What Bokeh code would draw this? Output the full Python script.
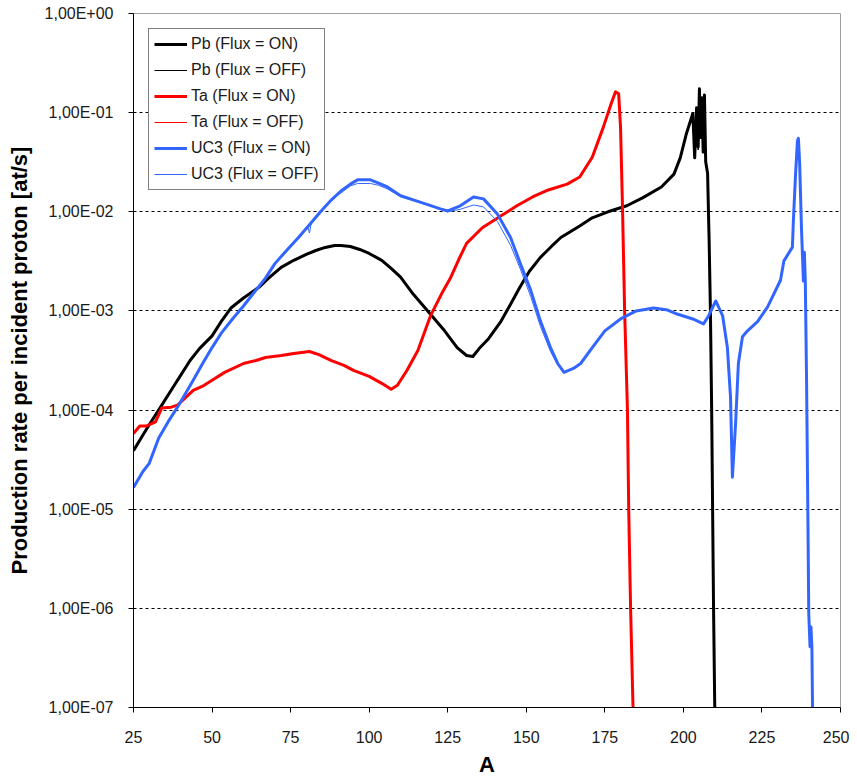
from bokeh.plotting import figure
from bokeh.models import Range1d, FixedTicker, CustomJSTickFormatter
from bokeh.embed import file_html
from bokeh.resources import INLINE

# ---------------- data ----------------
pb_A = [25, 28, 30, 33, 35, 38, 40, 43, 46, 50, 53, 56, 60, 65, 68, 72, 76, 80, 83, 86,
        89, 91, 94, 97, 100, 104, 107, 110, 114, 117, 120, 124, 128, 131, 133, 135, 138, 142, 145, 148,
        151, 154.5, 158, 161, 164, 167, 171, 176, 182, 187, 193, 197, 199, 201, 203, 203.6, 204.2, 204.7, 205.1, 205.5,
        205.9, 206.3, 206.7, 207.1, 207.7, 208.2, 208.6, 209.0, 209.3, 209.6, 210.1]
pb_on = [3.9e-5, 5.6e-5, 7.1e-5, 1.0e-4, 1.26e-4, 1.78e-4, 2.24e-4, 3.16e-4, 4.17e-4, 5.6e-4,
         7.9e-4, 1.07e-3, 1.35e-3, 1.74e-3, 2.14e-3, 2.75e-3, 3.24e-3, 3.72e-3, 4.07e-3, 4.37e-3,
         4.57e-3, 4.57e-3, 4.47e-3, 4.17e-3, 3.8e-3, 3.24e-3, 2.69e-3, 2.19e-3, 1.48e-3, 1.15e-3,
         8.9e-4, 6.3e-4, 4.27e-4, 3.55e-4, 3.47e-4, 4.17e-4, 5.25e-4, 7.9e-4, 1.17e-3, 1.74e-3,
         2.51e-3, 3.47e-3, 4.47e-3, 5.5e-3, 6.3e-3, 7.2e-3, 8.7e-3, 1.0e-2, 1.15e-2, 1.38e-2,
         1.78e-2, 2.4e-2, 3.5e-2, 6.2e-2, 9.8e-2, 3.5e-2, 1.12e-1, 4.5e-2, 1.74e-1, 5.6e-2,
         1.41e-1, 4.0e-2, 1.51e-1, 3.2e-2, 2.45e-2, 5.0e-3, 1.0e-3, 1.0e-4, 1.0e-5, 1.0e-6,
         5.0e-8]
pb_off = [3.9e-5, 5.6e-5, 7.1e-5, 1.0e-4, 1.26e-4, 1.78e-4, 2.24e-4, 3.16e-4, 4.17e-4, 5.6e-4,
          7.9e-4, 1.07e-3, 1.35e-3, 1.74e-3, 2.14e-3, 2.75e-3, 3.24e-3, 3.72e-3, 4.07e-3, 4.37e-3,
          4.57e-3, 4.57e-3, 4.47e-3, 4.17e-3, 3.8e-3, 3.24e-3, 2.69e-3, 2.19e-3, 1.48e-3, 1.15e-3,
          8.9e-4, 6.3e-4, 4.27e-4, 3.55e-4, 3.47e-4, 4.17e-4, 5.25e-4, 7.9e-4, 1.17e-3, 1.74e-3,
          2.51e-3, 3.47e-3, 4.47e-3, 5.5e-3, 6.3e-3, 7.2e-3, 8.7e-3, 1.0e-2, 1.15e-2, 1.38e-2,
          1.78e-2, 2.4e-2, 3.5e-2, 6.2e-2, 9.8e-2, 3.8e-2, 1.05e-1, 4.2e-2, 1.6e-1, 6.0e-2,
          1.3e-1, 4.4e-2, 1.4e-1, 3.4e-2, 2.4e-2, 3.0e-3, 6.0e-4, 6.0e-5, 8.0e-6, 8.0e-7,
          5.0e-8]

ta_A = [25, 27, 29, 32, 34, 37, 39, 44, 47, 50, 54, 60, 64, 67, 72, 76, 81, 84, 88, 92,
        95, 100, 104, 107, 109, 112, 115.5, 119.5, 123, 126, 128.5, 131, 136, 142, 147, 152, 157, 163, 167, 171,
        174.5, 177, 178.4, 179.4, 180, 180.6, 181.3, 182.2, 182.6, 183.2, 184.2]
ta_on = [5.8e-5, 6.9e-5, 6.9e-5, 7.6e-5, 1.05e-4, 1.07e-4, 1.12e-4, 1.58e-4, 1.74e-4, 2.0e-4,
         2.4e-4, 2.95e-4, 3.16e-4, 3.39e-4, 3.55e-4, 3.72e-4, 3.9e-4, 3.63e-4, 3.16e-4, 2.82e-4,
         2.51e-4, 2.19e-4, 1.86e-4, 1.62e-4, 1.78e-4, 2.51e-4, 3.98e-4, 8.9e-4, 1.48e-3, 2.19e-3,
         3.3e-3, 4.8e-3, 6.9e-3, 9.1e-3, 1.15e-2, 1.41e-2, 1.66e-2, 1.9e-2, 2.24e-2, 3.55e-2,
         7.1e-2, 1.23e-1, 1.62e-1, 1.55e-1, 7.1e-2, 1.2e-2, 1.0e-3, 1.0e-4, 1.0e-5, 1.0e-6,
         5.0e-8]
ta_off = [5.8e-5, 6.9e-5, 6.9e-5, 7.6e-5, 1.05e-4, 1.07e-4, 1.12e-4, 1.58e-4, 1.74e-4, 2.0e-4,
          2.4e-4, 2.95e-4, 3.16e-4, 3.39e-4, 3.55e-4, 3.72e-4, 3.9e-4, 3.63e-4, 3.16e-4, 2.82e-4,
          2.51e-4, 2.19e-4, 1.86e-4, 1.62e-4, 1.78e-4, 2.51e-4, 3.98e-4, 8.9e-4, 1.48e-3, 2.19e-3,
          3.3e-3, 4.8e-3, 6.9e-3, 9.3e-3, 1.15e-2, 1.41e-2, 1.66e-2, 1.9e-2, 2.24e-2, 3.55e-2,
          7.1e-2, 1.23e-1, 1.62e-1, 1.55e-1, 7.1e-2, 1.2e-2, 1.0e-3, 1.0e-4, 1.0e-5, 1.0e-6,
          5.0e-8]

uc_A = [25, 28, 30, 33, 36, 39, 44, 47, 50, 53, 56.5, 60, 63, 67, 70, 74, 77.5, 81, 84.5, 88,
        91, 94, 96.3, 100.4, 103, 105.8, 110, 116, 122.7, 125, 129, 133.2, 136.4, 140.8, 145, 148.2, 151.4, 154.5, 157.7, 160,
        162, 165, 167.3, 171, 175, 180, 185, 190.5, 195, 198, 203, 206.4, 208, 210.3, 212.5, 214, 215, 215.6, 216.6, 217.5,
        218.8, 220.4, 223.6, 226.8, 230.9, 232, 234.7, 235, 235.7, 236.3, 236.6, 237, 237.6, 238.2, 238.5, 238.8, 239.2, 239.6, 239.9, 240.3,
        240.6, 240.9, 241.2]
uc_on = [1.66e-5, 2.4e-5, 2.9e-5, 5.2e-5, 7.6e-5, 1.07e-4, 2.0e-4, 2.95e-4, 4.27e-4, 6.0e-4,
         8.3e-4, 1.12e-3, 1.48e-3, 2.14e-3, 3.0e-3, 4.17e-3, 5.5e-3, 7.4e-3, 1.0e-2, 1.32e-2,
         1.62e-2, 1.9e-2, 2.1e-2, 2.1e-2, 1.95e-2, 1.78e-2, 1.45e-2, 1.26e-2, 1.07e-2, 1.02e-2,
         1.15e-2, 1.41e-2, 1.35e-2, 9.5e-3, 5.5e-3, 2.95e-3, 1.62e-3, 7.9e-4, 4.27e-4, 2.95e-4,
         2.4e-4, 2.63e-4, 2.95e-4, 4.27e-4, 6.3e-4, 8.3e-4, 1.0e-3, 1.07e-3, 1.02e-3, 9.3e-4,
         8.3e-4, 7.4e-4, 8.9e-4, 1.26e-3, 8.9e-4, 4.27e-4, 1.35e-4, 2.1e-5, 7.2e-5, 2.95e-4,
         5.5e-4, 6.3e-4, 7.8e-4, 1.1e-3, 2.04e-3, 3.2e-3, 4.4e-3, 8.1e-3, 2.4e-2, 5.2e-2,
         5.5e-2, 3.1e-2, 6.5e-3, 2.0e-3, 3.9e-3, 2.0e-3, 2.0e-4, 1.0e-5, 8.9e-7, 4.1e-7,
         6.5e-7, 4.0e-7, 5.0e-8]
uc_off_A = [25, 28, 30, 33, 36, 39, 44, 47, 50, 53, 56.5, 60, 63, 67, 70, 74, 77.5, 80.5, 81, 81.5, 84.5, 88,
            91, 94, 96.3, 100.4, 103, 105.8, 110, 116, 122.7, 125, 129, 133.2, 136.4, 140.8, 145, 148.2, 151.4, 154.5, 157.7, 160,
            162, 165, 167.3, 171, 175, 180, 185, 190.5, 195, 198, 203, 206.4, 208, 210.3, 212.5, 214, 215, 215.6, 216.6, 217.5,
            218.8, 220.4, 223.6, 226.8, 230.9, 232, 234.7, 235, 235.7, 236.3, 236.6, 237, 237.6, 238.2, 238.5, 238.8, 239.0, 239.6, 239.9, 240.3,
            240.6, 240.9, 241.2]
uc_off = [1.66e-5, 2.4e-5, 2.9e-5, 5.2e-5, 7.6e-5, 1.07e-4, 2.0e-4, 2.95e-4, 4.27e-4, 6.0e-4,
          8.3e-4, 1.12e-3, 1.48e-3, 2.14e-3, 3.0e-3, 4.17e-3, 5.5e-3, 7.0e-3, 6.1e-3, 7.5e-3, 1.0e-2, 1.3e-2,
          1.55e-2, 1.82e-2, 1.93e-2, 1.93e-2, 1.85e-2, 1.7e-2, 1.42e-2, 1.24e-2, 1.06e-2, 1.0e-2,
          1.06e-2, 1.17e-2, 1.12e-2, 8.0e-3, 4.6e-3, 2.6e-3, 1.4e-3, 7.0e-4, 3.9e-4, 2.85e-4,
          2.4e-4, 2.63e-4, 2.95e-4, 4.27e-4, 6.3e-4, 8.3e-4, 1.0e-3, 1.07e-3, 1.02e-3, 9.3e-4,
          8.3e-4, 7.4e-4, 8.9e-4, 1.26e-3, 8.9e-4, 4.27e-4, 1.35e-4, 2.1e-5, 7.2e-5, 2.95e-4,
          5.5e-4, 6.3e-4, 7.8e-4, 1.1e-3, 2.04e-3, 3.2e-3, 4.4e-3, 8.1e-3, 2.4e-2, 5.2e-2,
          5.5e-2, 3.1e-2, 6.5e-3, 2.0e-3, 3.9e-3, 2.0e-3, 1.0e-3, 1.0e-5, 8.9e-7, 4.1e-7,
          6.5e-7, 4.0e-7, 5.0e-8]

x_ticks = [25, 50, 75, 100, 125, 150, 175, 200, 225, 250]
y_ticks = [1e-7, 1e-6, 1e-5, 1e-4, 1e-3, 1e-2, 1e-1, 1e0]
y_tick_labels = ["1,00E-07", "1,00E-06", "1,00E-05", "1,00E-04",
                 "1,00E-03", "1,00E-02", "1,00E-01", "1,00E+00"]

series = [
    ("Pb (Flux = ON)", pb_A, pb_on, "#000000", 3),
    ("Pb (Flux = OFF)", pb_A, pb_off, "#000000", 1),
    ("Ta (Flux = ON)", ta_A, ta_on, "#FF0000", 3),
    ("Ta (Flux = OFF)", ta_A, ta_off, "#FF0000", 1),
    ("UC3 (Flux = ON)", uc_A, uc_on, "#3366FF", 3),
    ("UC3 (Flux = OFF)", uc_off_A, uc_off, "#3366FF", 1),
]

FONT = "Liberation Sans"

p = figure(width=849, height=780, output_backend="svg", toolbar_location=None,
           y_axis_type="log", x_range=Range1d(25, 250), y_range=Range1d(1e-7, 1),
           min_border_left=133, min_border_right=9, min_border_top=13, min_border_bottom=73)

for label, xs, ys, color, w in series:
    p.line(xs, ys, line_color=color, line_width=w, line_join="round", legend_label=label)

p.outline_line_color = "#A0A0A0"
p.outline_line_width = 1

p.xgrid.grid_line_color = None
p.ygrid.grid_line_color = "#000000"
p.ygrid.grid_line_dash = "3 3"
p.ygrid.grid_line_width = 1
p.ygrid.ticker = FixedTicker(ticks=y_ticks)

p.xaxis.ticker = FixedTicker(ticks=x_ticks)
p.yaxis.ticker = FixedTicker(ticks=y_ticks)
p.yaxis.formatter = CustomJSTickFormatter(args=dict(labels=y_tick_labels),
                                          code="return labels[Math.round(Math.log10(tick)) + 7];")

for ax in (p.xaxis, p.yaxis):
    ax.axis_line_color = "#000000"
    ax.axis_line_width = 1
    ax.major_tick_line_color = "#000000"
    ax.major_tick_out = 5
    ax.major_tick_in = 0
    ax.minor_tick_line_color = None
    ax.major_label_text_font = FONT
    ax.major_label_text_font_size = "16px"
    ax.major_label_text_color = "#1a1a1a"
    ax.axis_label_text_font = FONT
    ax.axis_label_text_font_size = "22px"
    ax.axis_label_text_font_style = "bold"
    ax.axis_label_text_color = "#000000"

p.xaxis.axis_label = "A"
p.yaxis.axis_label = "Production rate per incident proton [at/s]"
p.xaxis.major_label_standoff = 18
p.xaxis.axis_label_standoff = 6
p.yaxis.major_label_standoff = 15
p.yaxis.axis_label_standoff = 10

lg = p.legend[0]
lg.location = "top_left"
lg.margin = 15
lg.padding = 5
lg.spacing = 6
lg.label_height = 20
lg.glyph_height = 20
lg.glyph_width = 33
lg.label_standoff = 4
lg.label_text_font = FONT
lg.label_text_font_size = "16px"
lg.label_text_color = "#1a1a1a"
lg.border_line_color = "#000000"
lg.border_line_width = 1
lg.background_fill_color = "#FFFFFF"
lg.background_fill_alpha = 1.0

open("out.html", "w").write(file_html(p, INLINE))
